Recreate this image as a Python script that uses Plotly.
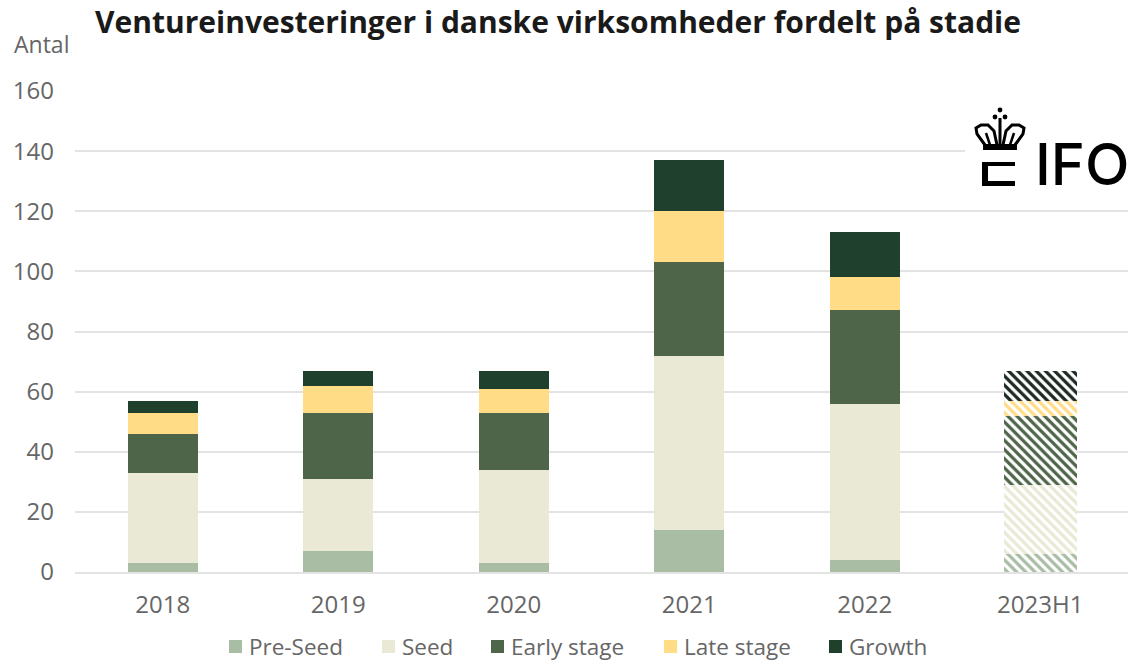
import plotly.graph_objects as go

categories = ["2018", "2019", "2020", "2021", "2022", "2023H1"]
pre_seed = [3, 7, 3, 14, 4, 6]
seed = [30, 24, 31, 58, 52, 23]
early = [13, 22, 19, 31, 31, 23]
late = [7, 9, 8, 17, 11, 5]
growth = [4, 5, 6, 17, 15, 10]
y_ticks = [0, 20, 40, 60, 80, 100, 120, 140, 160]

series = [("Pre-Seed", pre_seed, "#A9BDA5"), ("Seed", seed, "#EAE9D6"),
          ("Early stage", early, "#4E6549"), ("Late stage", late, "#FFDC85"),
          ("Growth", growth, "#20402E")]
legend_x = [229, 382, 491, 664, 829]
W, H = 1130, 661
L, R, T, B = 75, 2, 90, 89
FONT = "Open Sans"
GREY = "#666666"

fig = go.Figure()
for name, vals, col in series:
    fg = "#1c2a22" if name == "Growth" else col
    fig.add_bar(x=categories, y=vals, name=name, marker_color=col, marker_line_width=0,
                width=[0.4] * 5 + [0.415], showlegend=False,
                marker_pattern=dict(shape=[""] * 5 + ["\\"], size=6.5, solidity=0.5,
                                    fgcolor=fg, bgcolor="white", fillmode="replace"))

def px(x): return (x - L) / (W - L - R)
def py(y): return (H - B - y) / (H - T - B)
def rect(x0, y0, x1, y1, color="black"):
    fig.add_shape(type="rect", xref="paper", yref="paper", x0=px(x0), x1=px(x1), y0=py(y0), y1=py(y1),
                  fillcolor=color, line_width=0, layer="above")
def path(points, width=3):
    d = "M" + " L".join(f"{px(a):.5f},{py(b):.5f}" for a, b in points)
    fig.add_shape(type="path", xref="paper", yref="paper", path=d, line=dict(color="black", width=width), layer="above")
def dot(cx, cy, r=2.4):
    fig.add_shape(type="circle", xref="paper", yref="paper", x0=px(cx - r), x1=px(cx + r), y0=py(cy - r), y1=py(cy + r),
                  fillcolor="black", line_width=0, layer="above")

rect(965, 118, 1130, 190, "white")
# crown
rect(983, 144, 1017, 150)
path([(985, 145), (977, 134), (976, 128), (981, 125), (988, 125), (994, 131), (997, 145)])
path([(1015, 145), (1023, 134), (1024, 128), (1019, 125), (1012, 125), (1006, 131), (1003, 145)])
path([(986, 133), (990, 145)], 2.5)
path([(1014, 133), (1010, 145)], 2.5)
path([(1000, 118), (1000, 146)], 3)
dot(1000, 110); dot(995, 117); dot(1005, 117)
# E
rect(982, 162, 1015, 166); rect(982, 162, 988, 186); rect(982, 181, 1015, 186)
fig.add_annotation(text="IFO", xref="paper", yref="paper", x=px(1130), y=py(164), xanchor="right", yanchor="middle",
                   showarrow=False, font=dict(family="Inter", size=58, color="black", weight=500), borderpad=0)
fig.add_annotation(text="Antal", xref="paper", yref="paper", x=px(12), y=py(44), xanchor="left", yanchor="middle",
                   showarrow=False, font=dict(size=23, color=GREY))

for (name, _, col), lx in zip(series, legend_x):
    rect(lx, 640, lx + 13, 653, col)
    fig.add_annotation(text=name, xref="paper", yref="paper", x=px(lx + 19), y=py(646), xanchor="left", yanchor="middle",
                       showarrow=False, font=dict(size=22.5, color=GREY), borderpad=0)

fig.update_layout(
    width=W, height=H, autosize=False, paper_bgcolor="white", plot_bgcolor="white",
    margin=dict(l=L, r=R, t=T, b=B), barmode="stack", bargap=0.6, showlegend=False,
    font=dict(family=FONT, color=GREY, size=20),
    title=dict(text="<b>Ventureinvesteringer i danske virksomheder fordelt på stadie</b>", x=95 / W, xanchor="left",
               y=1 - 22 / H, yanchor="middle", font=dict(family=FONT, size=30, color="#1a1a1a")),
    xaxis=dict(tickfont=dict(size=24), showgrid=False, ticks="", showline=True, linecolor="#E3E3E3", linewidth=2,
               ticklabelstandoff=10, automargin=False),
    yaxis=dict(range=[0, 160.33], tickvals=y_ticks, gridcolor="#E3E3E3", gridwidth=2, zeroline=False, ticks="",
               tickfont=dict(size=24), ticklabelstandoff=20, automargin=False),
)
fig.write_html("out.html", post_script="document.body.style.margin='0';", config={"displayModeBar": False})
